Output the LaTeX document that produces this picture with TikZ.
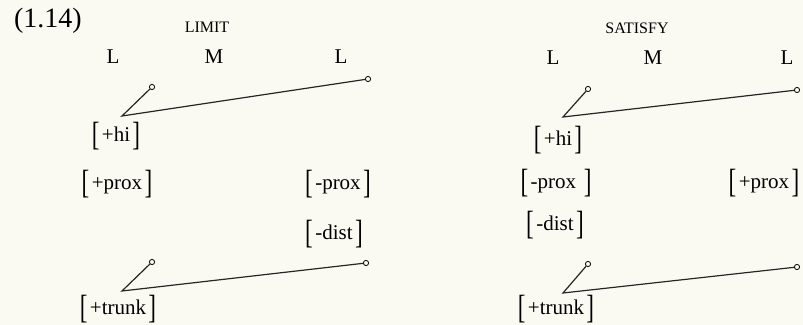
\documentclass[tikz,border=0pt]{standalone}
\usepackage{graphicx}
\usepackage{fontspec}
\setmainfont{Liberation Serif}
\usepackage{tikz}
\usetikzlibrary{positioning}
\definecolor{paper}{RGB}{250,250,242}
\newcommand{\lbr}{\raisebox{-2pt}{\scalebox{1.1}[1.6]{[}}}
\newcommand{\rbr}{\raisebox{-2pt}{\scalebox{1.1}[1.6]{]}}}
\newcommand{\feat}[1]{\lbr\hspace{1.2pt}#1\hspace{1.2pt}\rbr}

\begin{document}
\begin{tikzpicture}[
  x=0.5pt, y=-0.5pt,
  every node/.style={font=\fontsize{10.5}{12}\selectfont, inner sep=0pt},
  tone/.style={font=\fontsize{10.5}{12}\selectfont},
  caps/.style={font=\fontsize{8}{9}\selectfont},
  feat/.style={font=\fontsize{10.5}{12}\selectfont, text height=9pt, text depth=4.6pt},
  knob/.style={draw, circle, fill=paper, minimum size=2.6pt, inner sep=0pt},
  link/.style={line width=0.6pt, black!85}
]
  \useasboundingbox[fill=paper] (0,0) rectangle (803,325);

  \node[font=\fontsize{14}{16}\selectfont] (num) at (48, 21) {(1.14)};

  % LIMIT
  \node[caps] (limit) at (207, 27) {LIMIT};
  \node[tone] (aL1) at (113, 57) {L};
  \node[tone] (aM) at (214, 57) {M};
  \node[tone] (aL2) at (341, 57) {L};

  \coordinate (aV1) at (122, 116);
  \node[knob] (aS1) at (152, 87) {};
  \node[knob] (aE1) at (368, 79) {};
  \node[feat] (ahi) at (116, 137) {\feat{+hi}};

  \node[feat] (apx1) at (117, 185) {\feat{+prox}};
  \node[feat] (apx2) at (338, 185) {\feat{-prox}};
  \node[feat] (adist) at (334, 235) {\feat{-dist}};

  \coordinate (aV2) at (122, 291);
  \node[knob] (aS2) at (152, 262) {};
  \node[knob] (aE2) at (366, 263) {};
  \node[feat] (atrunk) at (118, 310) {\feat{+trunk}};

  \draw[link] (aS1) -- (aV1) -- (aE1);
  \draw[link] (aS2) -- (aV2) -- (aE2);

  % SATISFY
  \node[caps] (satisfy) at (637, 28) {SATISFY};
  \node[tone] (bL1) at (553, 58) {L};
  \node[tone] (bM) at (653, 58) {M};
  \node[tone] (bL2) at (787, 58) {L};

  \coordinate (bV1) at (563, 117);
  \node[knob] (bS1) at (588, 89) {};
  \node[knob] (bE1) at (797, 90) {};
  \node[feat] (bhi) at (558, 141) {\feat{+hi}};

  \node[feat] (bpx1) at (556, 184) {\feat{-prox\ }};
  \node[feat] (bpx2) at (764, 184) {\feat{+prox}};
  \node[feat] (bdist) at (555, 226) {\feat{-dist}};

  \coordinate (bV2) at (563, 293);
  \node[knob] (bS2) at (588, 264) {};
  \node[knob] (bE2) at (797, 267) {};
  \node[feat] (btrunk) at (556, 310) {\feat{+trunk}};

  \draw[link] (bS1) -- (bV1) -- (bE1);
  \draw[link] (bS2) -- (bV2) -- (bE2);
\end{tikzpicture}
\end{document}
